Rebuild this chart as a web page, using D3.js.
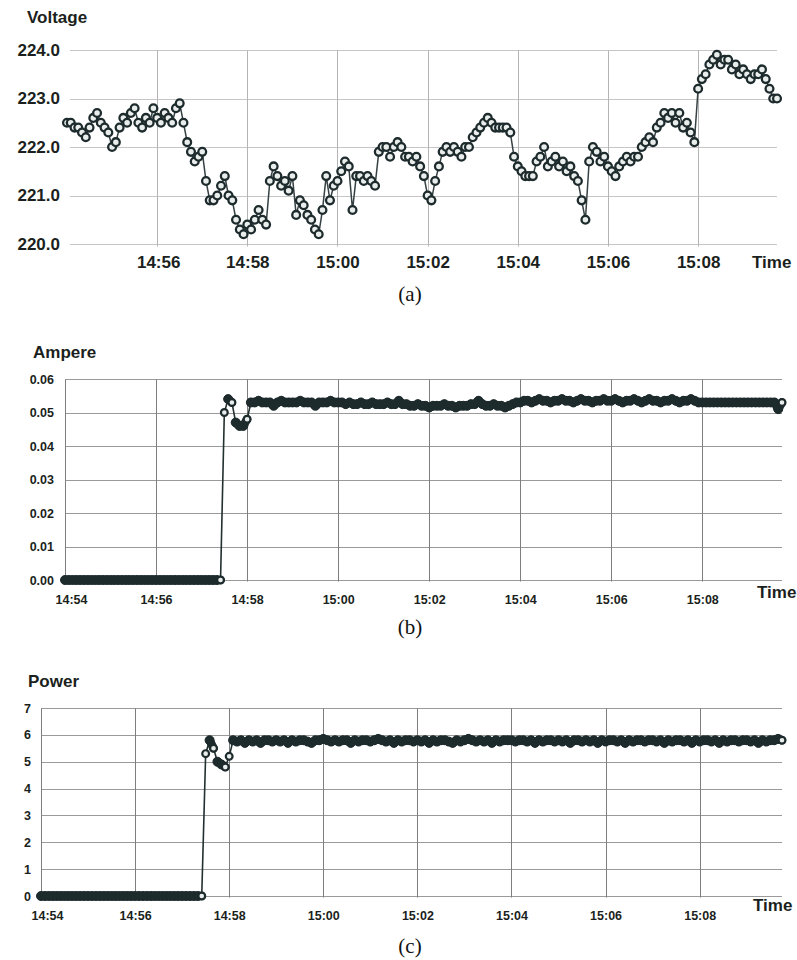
<!DOCTYPE html>
<html>
<head>
<meta charset="utf-8">
<script src="https://cdn.jsdelivr.net/npm/d3@7"></script>
<style>
  body { margin: 0; background: #fff; }
  svg { display: block; }
</style>
</head>
<body>
<svg id="chart" width="797" height="960"></svg>
<script>
// Meter log: one reading every 5 s, seconds counted from 14:54:00 (one row per minute)
const sampleSeconds = [
  0, 5, 10, 15, 20, 25, 30, 35, 40, 45, 50, 55,
  60, 65, 70, 75, 80, 85, 90, 95, 100, 105, 110, 115,
  120, 125, 130, 135, 140, 145, 150, 155, 160, 165, 170, 175,
  180, 185, 190, 195, 200, 205, 210, 215, 220, 225, 230, 235,
  240, 245, 250, 255, 260, 265, 270, 275, 280, 285, 290, 295,
  300, 305, 310, 315, 320, 325, 330, 335, 340, 345, 350, 355,
  360, 365, 370, 375, 380, 385, 390, 395, 400, 405, 410, 415,
  420, 425, 430, 435, 440, 445, 450, 455, 460, 465, 470, 475,
  480, 485, 490, 495, 500, 505, 510, 515, 520, 525, 530, 535,
  540, 545, 550, 555, 560, 565, 570, 575, 580, 585, 590, 595,
  600, 605, 610, 615, 620, 625, 630, 635, 640, 645, 650, 655,
  660, 665, 670, 675, 680, 685, 690, 695, 700, 705, 710, 715,
  720, 725, 730, 735, 740, 745, 750, 755, 760, 765, 770, 775,
  780, 785, 790, 795, 800, 805, 810, 815, 820, 825, 830, 835,
  840, 845, 850, 855, 860, 865, 870, 875, 880, 885, 890, 895,
  900, 905, 910, 915, 920, 925, 930, 935, 940, 945
];

// Voltage (V)
const voltage = [
  222.5, 222.5, 222.4, 222.4, 222.3, 222.2, 222.4, 222.6, 222.7, 222.5, 222.4, 222.3,
  222.0, 222.1, 222.4, 222.6, 222.5, 222.7, 222.8, 222.5, 222.4, 222.6, 222.5, 222.8,
  222.6, 222.5, 222.7, 222.6, 222.5, 222.8, 222.9, 222.5, 222.1, 221.9, 221.7, 221.8,
  221.9, 221.3, 220.9, 220.9, 221.0, 221.2, 221.4, 221.0, 220.9, 220.5, 220.3, 220.2,
  220.4, 220.3, 220.5, 220.7, 220.5, 220.4, 221.3, 221.6, 221.4, 221.2, 221.3, 221.1,
  221.4, 220.6, 220.9, 220.8, 220.6, 220.5, 220.3, 220.2, 220.7, 221.4, 220.9, 221.2,
  221.3, 221.5, 221.7, 221.6, 220.7, 221.4, 221.4, 221.3, 221.4, 221.3, 221.2, 221.9,
  222.0, 222.0, 221.8, 222.0, 222.1, 222.0, 221.8, 221.8, 221.7, 221.8, 221.6, 221.4,
  221.0, 220.9, 221.3, 221.6, 221.9, 222.0, 221.9, 222.0, 221.9, 221.8, 222.0, 222.0,
  222.2, 222.3, 222.4, 222.5, 222.6, 222.5, 222.4, 222.4, 222.4, 222.4, 222.3, 221.8,
  221.6, 221.5, 221.4, 221.4, 221.4, 221.7, 221.8, 222.0, 221.6, 221.7, 221.8, 221.6,
  221.7, 221.5, 221.6, 221.4, 221.3, 220.9, 220.5, 221.7, 222.0, 221.9, 221.7, 221.8,
  221.6, 221.5, 221.4, 221.6, 221.7, 221.8, 221.7, 221.8, 221.8, 222.0, 222.1, 222.2,
  222.1, 222.4, 222.5, 222.7, 222.6, 222.7, 222.5, 222.7, 222.4, 222.5, 222.3, 222.1,
  223.2, 223.4, 223.5, 223.7, 223.8, 223.9, 223.7, 223.8, 223.8, 223.6, 223.7, 223.5,
  223.6, 223.5, 223.4, 223.5, 223.5, 223.6, 223.4, 223.2, 223.0, 223.0
];

// Current (A)
const ampere = [
  0, 0, 0, 0, 0, 0, 0, 0, 0, 0, 0, 0,
  0, 0, 0, 0, 0, 0, 0, 0, 0, 0, 0, 0,
  0, 0, 0, 0, 0, 0, 0, 0, 0, 0, 0, 0,
  0, 0, 0, 0, 0, 0, 0.050, 0.054, 0.053, 0.047, 0.046, 0.046,
  0.048, 0.053, 0.053, 0.0535, 0.053, 0.053, 0.053, 0.052, 0.053, 0.0535, 0.053, 0.053,
  0.053, 0.053, 0.0535, 0.053, 0.053, 0.053, 0.052, 0.053, 0.053, 0.053, 0.0535, 0.053,
  0.053, 0.053, 0.0525, 0.053, 0.0525, 0.0525, 0.053, 0.0525, 0.0525, 0.053, 0.0525, 0.0525,
  0.0525, 0.053, 0.0525, 0.0525, 0.0535, 0.0525, 0.0525, 0.052, 0.052, 0.0525, 0.052, 0.052,
  0.0515, 0.052, 0.052, 0.052, 0.0525, 0.052, 0.052, 0.0515, 0.052, 0.052, 0.052, 0.0525,
  0.0525, 0.0535, 0.0525, 0.052, 0.052, 0.0525, 0.052, 0.052, 0.0515, 0.052, 0.0525, 0.053,
  0.053, 0.0535, 0.0535, 0.053, 0.0535, 0.054, 0.0535, 0.0535, 0.053, 0.0535, 0.0535, 0.054,
  0.0535, 0.0535, 0.053, 0.0535, 0.054, 0.0535, 0.0535, 0.053, 0.0535, 0.0535, 0.054, 0.0535,
  0.0535, 0.054, 0.0535, 0.053, 0.0535, 0.0535, 0.054, 0.0535, 0.053, 0.0535, 0.054, 0.0535,
  0.0535, 0.053, 0.0535, 0.0535, 0.054, 0.0535, 0.053, 0.0535, 0.0535, 0.054, 0.0535, 0.053,
  0.053, 0.053, 0.053, 0.053, 0.053, 0.053, 0.053, 0.053, 0.053, 0.053, 0.053, 0.053,
  0.053, 0.053, 0.053, 0.053, 0.053, 0.053, 0.053, 0.053, 0.051, 0.053
];

// Power (W)
const power = [
  0, 0, 0, 0, 0, 0, 0, 0, 0, 0, 0, 0,
  0, 0, 0, 0, 0, 0, 0, 0, 0, 0, 0, 0,
  0, 0, 0, 0, 0, 0, 0, 0, 0, 0, 0, 0,
  0, 0, 0, 0, 0, 0, 5.3, 5.8, 5.5, 5.0, 4.9, 4.8,
  5.2, 5.8, 5.75, 5.8, 5.7, 5.8, 5.75, 5.8, 5.7, 5.8, 5.8, 5.75,
  5.8, 5.75, 5.8, 5.7, 5.8, 5.75, 5.8, 5.8, 5.75, 5.7, 5.8, 5.8,
  5.85, 5.8, 5.75, 5.8, 5.75, 5.8, 5.8, 5.7, 5.8, 5.75, 5.8, 5.8,
  5.75, 5.8, 5.85, 5.8, 5.75, 5.8, 5.7, 5.8, 5.75, 5.8, 5.8, 5.75,
  5.8, 5.75, 5.8, 5.7, 5.8, 5.75, 5.8, 5.8, 5.75, 5.7, 5.8, 5.75,
  5.8, 5.85, 5.8, 5.75, 5.8, 5.75, 5.8, 5.7, 5.8, 5.75, 5.8, 5.8,
  5.8, 5.75, 5.8, 5.8, 5.75, 5.8, 5.7, 5.8, 5.75, 5.8, 5.8, 5.75,
  5.8, 5.75, 5.8, 5.7, 5.8, 5.8, 5.75, 5.8, 5.75, 5.8, 5.7, 5.8,
  5.75, 5.8, 5.8, 5.75, 5.8, 5.7, 5.8, 5.75, 5.8, 5.8, 5.75, 5.8,
  5.8, 5.75, 5.8, 5.7, 5.8, 5.75, 5.8, 5.8, 5.75, 5.8, 5.7, 5.8,
  5.75, 5.8, 5.8, 5.75, 5.8, 5.7, 5.8, 5.75, 5.8, 5.8, 5.75, 5.8,
  5.8, 5.75, 5.8, 5.7, 5.8, 5.75, 5.8, 5.8, 5.85, 5.8
];

// Tick labels
const voltTicks = [220, 221, 222, 223, 224];
const ampTicks = [0, 0.01, 0.02, 0.03, 0.04, 0.05, 0.06];
const powerTicks = [0, 1, 2, 3, 4, 5, 6, 7];
const timeTicksVolt = ["14:56", "14:58", "15:00", "15:02", "15:04", "15:06", "15:08"];
const timeTicksAll = ["14:54", "14:56", "14:58", "15:00", "15:02", "15:04", "15:06", "15:08"];
const timeStart = "14:54:00";
const timeEnd = "15:09:45";

const FONT = "'Liberation Sans', Arial, Helvetica, sans-serif";
const SERIF = "'Liberation Serif', 'Times New Roman', serif";
const INK = "#1b1f20";
const MARK = "#1e2b2d";

const parseHMS = d3.timeParse("%H:%M:%S");
const parseHM = d3.timeParse("%H:%M");
const t0 = parseHMS(timeStart);
const timeDomain = [t0, parseHMS(timeEnd)];
const toDate = s => new Date(t0.getTime() + s * 1000);

const svg = d3.select("#chart");

function panel(o) {
  const g = svg.append("g");
  const x = d3.scaleTime().domain(timeDomain).range([o.x0, o.x1]);
  const y = d3.scaleLinear().domain(o.yDomain).range([o.yBottom, o.yTop]);
  const xt = o.xTicks.map(parseHM);
  const crisp = v => Math.round(v) + 0.5;

  // horizontal grid
  g.append("g").selectAll("line").data(o.yTicks).join("line")
    .attr("x1", o.gridLeft).attr("x2", o.x1)
    .attr("y1", d => crisp(y(d))).attr("y2", d => crisp(y(d)))
    .attr("stroke", o.hGrid).attr("stroke-width", 1);

  // vertical grid
  g.append("g").selectAll("line").data(xt).join("line")
    .attr("x1", d => crisp(x(d))).attr("x2", d => crisp(x(d)))
    .attr("y1", crisp(y(o.yDomain[1]))).attr("y2", crisp(y(o.yDomain[0])) + o.vExtra)
    .attr("stroke", o.vGrid).attr("stroke-width", 1);

  // y tick labels
  const ya = g.append("g").attr("transform", `translate(${o.x0},0)`)
    .call(d3.axisLeft(y).tickValues(o.yTicks).tickFormat(d3.format(o.yFmt))
      .tickSize(0).tickPadding(o.x0 - o.yLabelRight));
  ya.select(".domain").remove();
  ya.attr("font-family", FONT).attr("font-size", o.yFont);
  ya.selectAll("text").attr("font-weight", "bold").attr("fill", INK);

  // x tick labels
  const xa = g.append("g").attr("transform", `translate(0,${o.yBottom})`)
    .call(d3.axisBottom(x).tickValues(xt).tickFormat(d3.timeFormat("%H:%M"))
      .tickSize(0).tickPadding(0));
  xa.select(".domain").remove();
  xa.attr("font-family", FONT).attr("font-size", o.xFont);
  xa.selectAll("text").attr("font-weight", "bold").attr("fill", INK)
    .attr("y", o.xLabelBase - o.yBottom).attr("dy", 0)
    .attr("dx", (d, i) => (i === 0 ? o.firstNudge : 0));

  // titles
  g.append("text").attr("x", o.titleX).attr("y", o.titleY)
    .attr("font-family", FONT).attr("font-size", 17).attr("font-weight", "bold")
    .attr("fill", INK).text(o.title);
  g.append("text").attr("x", o.timeX).attr("y", o.timeY)
    .attr("font-family", FONT).attr("font-size", 17).attr("font-weight", "bold")
    .attr("fill", INK).text("Time");
  g.append("text").attr("x", 410).attr("y", o.capY).attr("text-anchor", "middle")
    .attr("font-family", SERIF).attr("font-size", 21).attr("fill", "#111").text(o.caption);

  // series
  const data = sampleSeconds.map((s, i) => ({ t: toDate(s), v: o.values[i] }));
  const line = d3.line().x(d => x(d.t)).y(d => y(d.v));
  const span = o.yDomain[1] - o.yDomain[0];
  const steady = (a, b) => Math.abs(b.v - a.v) <= span * 0.05;

  g.append("path").datum(data).attr("d", line)
    .attr("fill", "none").attr("stroke", o.lineColor).attr("stroke-width", o.lineWidth)
    .attr("stroke-linejoin", "round");

  // dense readings that stay steady merge into a solid trace
  if (o.bandWidth) {
    g.append("g").selectAll("path")
      .data(d3.pairs(data).filter(([a, b]) => steady(a, b)))
      .join("path").attr("d", line)
      .attr("fill", "none").attr("stroke", MARK).attr("stroke-width", o.bandWidth)
      .attr("stroke-linecap", "round");
  }

  const hollow = (d, i) => o.allHollow || i === data.length - 1 || !steady(d, data[i + 1]);

  g.append("g").selectAll("circle").data(data).join("circle")
    .attr("cx", d => x(d.t)).attr("cy", d => y(d.v))
    .attr("r", (d, i) => (hollow(d, i) ? o.rHollow : o.rSolid))
    .attr("fill", (d, i) => (hollow(d, i) ? "#e9edec" : MARK))
    .attr("stroke", MARK)
    .attr("stroke-width", (d, i) => (hollow(d, i) ? o.swHollow : o.swSolid));
}

// (a) voltage
panel({
  title: "Voltage", titleX: 27, titleY: 23, caption: "(a)", capY: 301,
  values: voltage, yDomain: [220, 224], yTicks: voltTicks, yFmt: ".1f",
  x0: 67, x1: 777, gridLeft: 70, yTop: 50, yBottom: 244,
  xTicks: timeTicksVolt, hGrid: "#c6c6c6", vGrid: "#b4b4b4", vExtra: 2,
  yLabelRight: 60, yFont: 17, xFont: 17, xLabelBase: 268, firstNudge: 1,
  timeX: 752, timeY: 268,
  lineColor: "#364143", lineWidth: 1.5, bandWidth: 0,
  allHollow: true, rHollow: 3.9, swHollow: 2.3, rSolid: 3.9, swSolid: 2.3
});

// (b) current
panel({
  title: "Ampere", titleX: 33, titleY: 358, caption: "(b)", capY: 634,
  values: ampere, yDomain: [0, 0.06], yTicks: ampTicks, yFmt: ".2f",
  x0: 65, x1: 782, gridLeft: 65, yTop: 379, yBottom: 580,
  xTicks: timeTicksAll, hGrid: "#9a9a9a", vGrid: "#7e7e7e", vExtra: 1,
  yLabelRight: 54, yFont: 12.5, xFont: 12.5, xLabelBase: 604, firstNudge: 6,
  timeX: 757, timeY: 598,
  lineColor: "#22302f", lineWidth: 1.6, bandWidth: 8.5,
  allHollow: false, rHollow: 3.4, swHollow: 2.2, rSolid: 4.5, swSolid: 1
});

// (c) power
panel({
  title: "Power", titleX: 28, titleY: 687, caption: "(c)", capY: 953,
  values: power, yDomain: [0, 7], yTicks: powerTicks, yFmt: "d",
  x0: 41, x1: 782, gridLeft: 41, yTop: 708, yBottom: 896,
  xTicks: timeTicksAll, hGrid: "#9a9a9a", vGrid: "#7e7e7e", vExtra: 1,
  yLabelRight: 31, yFont: 12.5, xFont: 12.5, xLabelBase: 920, firstNudge: 6,
  timeX: 753, timeY: 911,
  lineColor: "#22302f", lineWidth: 1.6, bandWidth: 8.5,
  allHollow: false, rHollow: 3.4, swHollow: 2.2, rSolid: 4.5, swSolid: 1
});
</script>
</body>
</html>
